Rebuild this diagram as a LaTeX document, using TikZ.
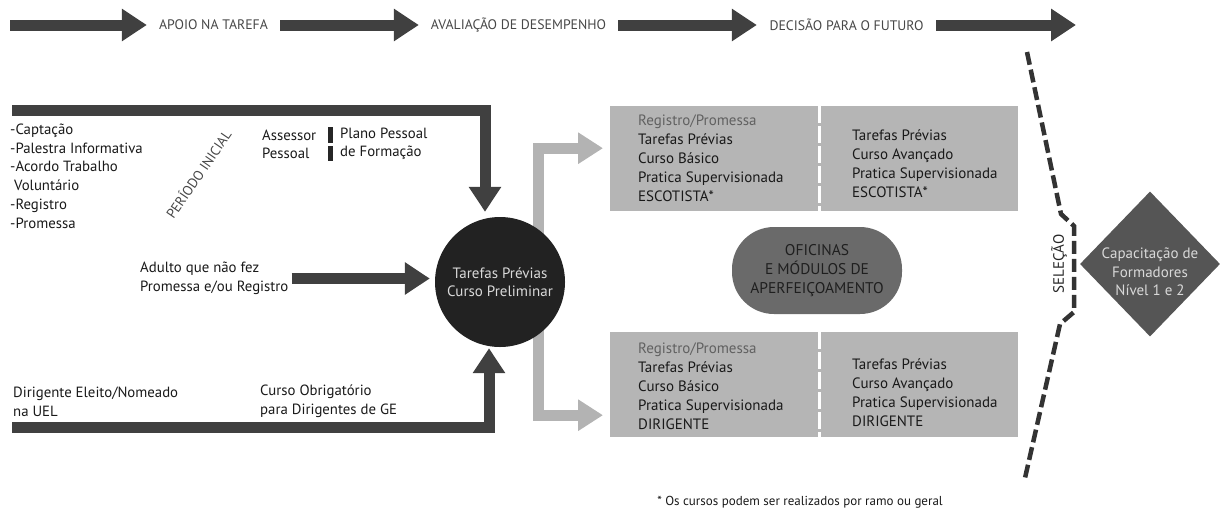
\documentclass[tikz,border=0pt]{standalone}
\usepackage{fontspec}
\setmainfont{PT Sans}
\usetikzlibrary{arrows.meta,shapes.geometric,backgrounds}

\definecolor{arrowgray}{HTML}{404040}
\definecolor{paleflow}{HTML}{B3B3B3}
\definecolor{boxgray}{HTML}{B5B5B5}
\definecolor{ovalgray}{HTML}{6A6A6A}
\definecolor{diamondgray}{HTML}{555555}
\definecolor{circleblack}{HTML}{222222}

\begin{document}
\begin{tikzpicture}[x=1pt, y=-1pt,
	bigarrow/.style={draw=arrowgray, line width=11pt, -{Triangle[length=25pt, width=31pt]}},
	palearrow/.style={draw=paleflow, line width=11pt, -{Triangle[length=25pt, width=30pt]}},
	phase/.style={font=\fontsize{13.8}{15}\selectfont, text=black!72, inner xsep=0pt},
	lbl/.style={font=\fontsize{14.8}{18.8}\selectfont, align=left, anchor=west, inner sep=0pt, text=black!90},
	box/.style={fill=boxgray, minimum height=105pt, anchor=north west, inner sep=0pt},
	boxtext/.style={font=\fontsize{15}{19}\selectfont, align=left, anchor=west, inner sep=0pt, text=black!90}]
	\useasboundingbox (0,0) rectangle (1221,512);

	% Phases along the top
	\coordinate (phase0) at (10,25);
	\node[phase, minimum width=133pt] (apoio) at (213.5,25) {APOIO NA TAREFA};
	\node[phase, minimum width=199pt] (aval) at (518.5,25) {AVALIAÇÃO DE DESEMPENHO};
	\node[phase, minimum width=179pt] (decis) at (846.5,25) {DECISÃO PARA O FUTURO};
	\coordinate (phase4) at (1076,25);
	\draw[bigarrow] (phase0) -- (apoio);
	\draw[bigarrow] (apoio) -- (aval);
	\draw[bigarrow] (aval) -- (decis);
	\draw[bigarrow] (decis) -- (phase4);

	% Central circle
	\node[circle, fill=circleblack, minimum size=130pt, inner sep=0pt, align=center,
		text=white!85!black, font=\fontsize{15}{18}\selectfont] (prelim) at (500,282)
		{Tarefas Prévias\\Curso Preliminar};

	% Initial period
	\node[lbl] (lista) at (10,176) {-Captação\\-Palestra Informativa\\-Acordo Trabalho\\\hspace{4pt}Voluntário\\-Registro\\-Promessa};
	\node[phase, rotate=55.6] (periodo) at (198,174) {PERÍODO INICIAL};
	\node[lbl, font=\fontsize{14.8}{18}\selectfont] (assessor) at (262,144) {Assessor\\Pessoal};
	\node[lbl, font=\fontsize{14.8}{18}\selectfont] (plano) at (340,144) {Plano Pessoal\\de Formação};
	\fill[black!85] (328,127) rectangle (333,143);
	\fill[black!85] (328,146) rectangle (333,161);
	\coordinate (topin) at (12,110);
	\draw[bigarrow] (topin) -| ([xshift=-15pt,yshift=5pt]prelim.north);

	% Adults without promise
	\node[lbl] (adulto) at (140,278.5) {Adulto que não fez\\Promessa e/ou Registro};
	\draw[bigarrow] ([xshift=3pt]adulto.east) -- ([xshift=-5pt]adulto.east -| prelim.west);

	% Elected leaders
	\node[lbl] (eleito) at (13,401.5) {Dirigente Eleito/Nomeado\\na UEL};
	\node[lbl] (obrig) at (260,401.5) {Curso Obrigatório\\para Dirigentes de GE};
	\coordinate (botin) at (12,427);
	\draw[bigarrow] (botin) -| ([xshift=-11pt,yshift=-1pt]prelim.south);

	% Training boxes
	\node[box, minimum width=209pt] (esc1) at (610,106) {};
	\node[box, minimum width=199pt] (esc2) at (819,106) {};
	\node[box, minimum width=209pt] (dir1) at (610,332) {};
	\node[box, minimum width=199pt] (dir2) at (819,332) {};
	\draw[white, line width=3.5pt, dash pattern=on 17pt off 3pt] (esc1.north east) -- (esc1.south east);
	\draw[white, line width=3.5pt, dash pattern=on 17pt off 3pt] (dir1.north east) -- (dir1.south east);
	\node[boxtext] (esc1t) at ([xshift=28pt]esc1.west)
		{\textcolor{black!62}{Registro/Promessa}\\Tarefas Prévias\\Curso Básico\\Pratica Supervisionada\\ESCOTISTA*};
	\node[boxtext] (esc2t) at ([xshift=33pt,yshift=-5pt]esc2.west)
		{Tarefas Prévias\\Curso Avançado\\Pratica Supervisionada\\ESCOTISTA*};
	\node[boxtext] (dir1t) at ([xshift=28pt,yshift=-1.5pt]dir1.west)
		{\textcolor{black!62}{Registro/Promessa}\\Tarefas Prévias\\Curso Básico\\Pratica Supervisionada\\DIRIGENTE};
	\node[boxtext] (dir2t) at ([xshift=33pt,yshift=-7.5pt]dir2.west)
		{Tarefas Prévias\\Curso Avançado\\Pratica Supervisionada\\DIRIGENTE};
	\begin{scope}[on background layer]
		\draw[palearrow] ([yshift=-10pt]prelim.54) |- ([xshift=-7pt,yshift=10.5pt]esc1.west);
		\draw[palearrow] ([yshift=10pt]prelim.-54) |- ([xshift=-7pt,yshift=-30.5pt]dir1.west);
	\end{scope}

	% Workshops
	\node[fill=ovalgray, rounded corners=42pt, minimum width=170pt, minimum height=87pt, inner sep=0pt,
		align=center, text=black!88, font=\fontsize{15.5}{19}\selectfont] (oficinas) at (817,270.5)
		{OFICINAS\\E MÓDULOS DE\\APERFEIÇOAMENTO};

	% Selection
	\draw[black!80, line width=4.5pt, dash pattern=on 13pt off 5pt]
		(1027,52) -- (1061,214) -- (1074,226) -- (1074,312) -- (1060,324) -- (1025,478);
	\node[phase, rotate=90, text=black!85, font=\fontsize{15}{16}\selectfont] (selecao) at (1059,264) {SELEÇÃO};
	\node[diamond, fill=diamondgray, minimum width=140pt, minimum height=145pt, inner sep=0pt] (capac) at (1150,264) {};
	\node[align=center, text=white!85!black, font=\fontsize{15}{18.5}\selectfont] (capact) at (1150,272)
		{Capacitação de\\Formadores\\Nível 1 e 2};

	% Note
	\node[font=\fontsize{13}{14}\selectfont, text=black!90] (nota) at (800,502) {* Os cursos podem ser realizados por ramo ou geral};
\end{tikzpicture}
\end{document}
